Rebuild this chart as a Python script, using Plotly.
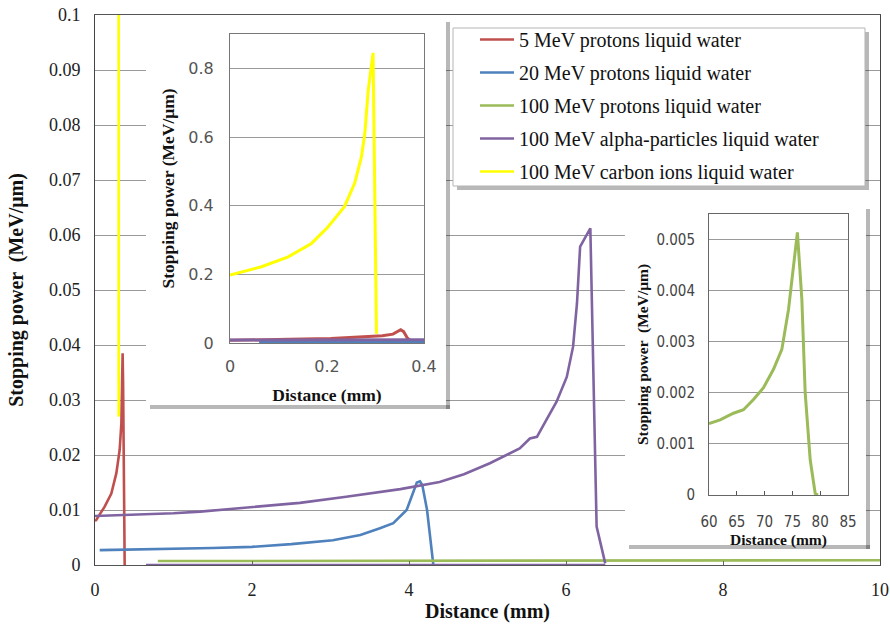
import plotly.graph_objects as go

# ---------------- data ----------------
# 5 MeV protons (distance mm, stopping power MeV/um)
p5_x = [0.0, 0.017, 0.06, 0.123, 0.208, 0.272, 0.314, 0.336, 0.345, 0.352, 0.358, 0.366, 0.378]
p5_y = [0.0080, 0.0082, 0.0092, 0.0106, 0.0130, 0.0167, 0.0209, 0.0258, 0.0330, 0.0385, 0.0330, 0.0140, 0.0]

# 20 MeV protons
p20_x = [0.06, 0.5, 1.0, 1.5, 2.0, 2.5, 3.03, 3.38, 3.63, 3.80, 3.97, 4.05, 4.10, 4.14, 4.17, 4.23, 4.29, 4.31]
p20_y = [0.0027, 0.0028, 0.0029, 0.0031, 0.0033, 0.0038, 0.0045, 0.00545, 0.0067, 0.0076, 0.0100, 0.0130,
         0.0150, 0.0152, 0.0145, 0.0100, 0.0015, 0.0]

# 100 MeV protons (two visible pieces: main range and inset range)
p100_x = [0.8, 3.0, 5.0, 7.0, 10.0, None,
          60.0, 62.0, 64.4, 66.2, 68.0, 69.8, 71.6, 73.1, 74.3, 75.2, 75.9,
          76.7, 77.3, 78.2, 79.1, 79.6]
p100_y = [0.00072, 0.00075, 0.00078, 0.00082, 0.00087, None,
          0.00140, 0.00147, 0.00160, 0.00167, 0.00187, 0.00210, 0.00246, 0.00285, 0.00363, 0.00449, 0.00514,
          0.00383, 0.00200, 0.00069, 0.00003, 0.0]

# 100 MeV alpha-particles
alpha_x = [0.0, 0.5, 1.0, 1.34, 2.0, 2.61, 3.2, 3.89, 4.39, 4.7, 5.03, 5.25, 5.41, 5.54, 5.63, 5.75, 5.88,
           6.01, 6.09, 6.14, 6.18, 6.31, 6.39, 6.5, None, 0.65, 6.5]
alpha_y = [0.0089, 0.0091, 0.0094, 0.0097, 0.0105, 0.0113, 0.0124, 0.0138, 0.0151, 0.0165, 0.0185,
           0.0200, 0.0212, 0.0230, 0.0233, 0.0264, 0.0297, 0.0342, 0.0397, 0.0476, 0.0579, 0.0612,
           0.0070, 0.0003, None, 0.0, 0.0]

# 100 MeV carbon ions
carbon_x = [0.0, 0.065, 0.120, 0.168, 0.202, 0.236, 0.257, 0.271, 0.278, 0.285, 0.295, 0.302]
carbon_y = [0.198, 0.222, 0.251, 0.290, 0.338, 0.397, 0.465, 0.542, 0.610, 0.736, 0.845, 0.027]

names = ["5 MeV protons liquid water", "20 MeV protons liquid water",
         "100 MeV protons liquid water", "100 MeV alpha-particles liquid water",
         "100 MeV carbon ions liquid water"]
colors = ["#C0504D", "#4F81BD", "#9BBB59", "#8064A2", "#FFFF00"]

main_xticks = [0, 2, 4, 6, 8, 10]
main_xtext = ["0", "2", "4", "6", "8", "10"]
main_yticks = [0, 0.01, 0.02, 0.03, 0.04, 0.05, 0.06, 0.07, 0.08, 0.09, 0.1]
main_ytext = ["0", "0.01", "0.02", "0.03", "0.04", "0.05", "0.06", "0.07", "0.08", "0.09", "0.1"]
in1_xticks = [0, 0.2, 0.4]
in1_xtext = ["0", "0.2", "0.4"]
in1_yticks = [0, 0.2, 0.4, 0.6, 0.8]
in1_ytext = ["0", "0.2", "0.4", "0.6", "0.8"]
in2_xticks = [60, 65, 70, 75, 80, 85]
in2_xtext = ["60", "65", "70", "75", "80", "85"]
in2_yticks = [0, 0.001, 0.002, 0.003, 0.004, 0.005]
in2_ytext = ["0", "0.001", "0.002", "0.003", "0.004", "0.005"]

# ---------------- geometry ----------------
W, H = 890, 636
ML, MR, MT, MB = 95, 10, 15, 71
X0, X1, Y0, Y1 = ML, W - MR, MT, H - MB  # plot area in page pixels


def fx(p):
    return (p - X0) / (X1 - X0)


def fy(p):
    return (Y1 - p) / (Y1 - Y0)


xs_data = [p5_x, p20_x, p100_x, alpha_x, carbon_x]
ys_data = [p5_y, p20_y, p100_y, alpha_y, carbon_y]

fig = go.Figure()

# main traces
for i in range(5):
    fig.add_trace(go.Scatter(x=xs_data[i], y=ys_data[i], mode="lines", name=names[i],
                             line=dict(color=colors[i], width=2.6), legendgroup=names[i],
                             xaxis="x", yaxis="y"))

# white box behind inset 1 (empty subplot that only paints a background)
fig.add_trace(go.Scatter(x=[], y=[], xaxis="x2", yaxis="y2", showlegend=False, hoverinfo="skip"))

# inset 1 traces
for i in [0, 1, 3, 4]:
    fig.add_trace(go.Scatter(x=xs_data[i], y=ys_data[i], mode="lines", name=names[i],
                             line=dict(color=colors[i], width=3), legendgroup=names[i],
                             showlegend=False, xaxis="x3", yaxis="y3"))

# white box behind inset 2
fig.add_trace(go.Scatter(x=[], y=[], xaxis="x4", yaxis="y4", showlegend=False, hoverinfo="skip"))

# inset 2 trace
fig.add_trace(go.Scatter(x=p100_x, y=p100_y, mode="lines", name=names[2],
                         line=dict(color=colors[2], width=3), legendgroup=names[2],
                         showlegend=False, xaxis="x5", yaxis="y5"))

serif = "Liberation Serif"
sans = "DejaVu Sans"
cond = "DejaVu Sans Condensed"
grid = "#9a9a9a"

hidden = dict(showgrid=False, showticklabels=False, zeroline=False, showline=False,
              ticks="", fixedrange=True, range=[0, 1], automargin=False)

fig.update_layout(
    template="none",
    width=W, height=H,
    margin=dict(l=ML, r=MR, t=MT, b=MB, autoexpand=False),
    paper_bgcolor="white", plot_bgcolor="white",
    showlegend=True,
    xaxis=dict(domain=[0, 1], anchor="y", range=[0, 10], tickvals=main_xticks, ticktext=main_xtext,
               showgrid=False, zeroline=False, showline=True, mirror=True, linecolor="#555",
               ticks="inside", ticklen=4, tickcolor="#666", ticklabelstandoff=8, automargin=False,
               ticklabeloverflow="allow",
               tickfont=dict(family=serif, size=18, color="#222"),
               title=dict(text="Distance (mm)", standoff=5,
                          font=dict(family=serif, size=20, color="#111", weight="bold"))),
    yaxis=dict(domain=[0, 1], anchor="x", range=[0, 0.1], tickvals=main_yticks, ticktext=main_ytext,
               showgrid=True, gridcolor=grid, zeroline=False, showline=True, mirror=True,
               linecolor="#444", ticks="", ticklabelstandoff=10, automargin=False,
               ticklabeloverflow="allow",
               tickfont=dict(family=serif, size=18, color="#222"),
               title=dict(text="Stopping power  (MeV/μm)", standoff=19,
                          font=dict(family=serif, size=20, color="#111", weight="bold"))),
    xaxis2=dict(domain=[fx(146), fx(446)], anchor="y2", **hidden),
    yaxis2=dict(domain=[fy(405), fy(18)], anchor="x2", **hidden),
    xaxis3=dict(domain=[fx(230), fx(424)], anchor="y3", range=[0, 0.4], tickvals=in1_xticks,
                ticktext=in1_xtext, showgrid=False, zeroline=False, showline=True, mirror=True,
                linecolor="#777", ticks="", ticklabelstandoff=9, automargin=False,
                tickfont=dict(family=sans, size=16, color="#555"),
                title=dict(text="Distance (mm)", standoff=13,
                           font=dict(family=serif, size=17.5, color="#111", weight="bold"))),
    yaxis3=dict(domain=[fy(343), fy(34)], anchor="x3", range=[0, 0.9], tickvals=in1_yticks,
                ticktext=in1_ytext, showgrid=True, gridcolor=grid, zeroline=False, showline=True,
                mirror=True, linecolor="#777", ticks="", ticklabelstandoff=12, automargin=False,
                tickfont=dict(family=sans, size=16, color="#555"),
                title=dict(text="Stopping power (MeV/μm)", standoff=9,
                           font=dict(family=serif, size=17.5, color="#111", weight="bold"))),
    xaxis4=dict(domain=[fx(625), fx(866)], anchor="y4", **hidden),
    yaxis4=dict(domain=[fy(545), fy(205)], anchor="x4", **hidden),
    xaxis5=dict(domain=[fx(709), fx(848)], anchor="y5", range=[60, 85], tickvals=in2_xticks,
                ticktext=in2_xtext, showgrid=False, zeroline=False, showline=True, mirror=True,
                linecolor="#666", ticks="inside", ticklen=4, tickcolor="#555", ticklabelstandoff=13,
                automargin=False,
                tickfont=dict(family=cond, size=15, color="#444"),
                title=dict(text="Distance (mm)", standoff=0,
                           font=dict(family=serif, size=15.5, color="#111", weight="bold"))),
    yaxis5=dict(domain=[fy(495), fy(214)], anchor="x5", range=[0, 0.0055], tickvals=in2_yticks,
                ticktext=in2_ytext, showgrid=True, gridcolor=grid, zeroline=False, showline=True,
                mirror=True, linecolor="#666", ticks="", ticklabelstandoff=10, automargin=False,
                tickfont=dict(family=cond, size=15, color="#444"),
                title=dict(text="Stopping power  (MeV/μm)", standoff=3,
                           font=dict(family=serif, size=15.5, color="#111", weight="bold"))),
    legend=dict(x=fx(475), y=fy(20), xanchor="left", yanchor="top",
                bgcolor="rgba(0,0,0,0)", borderwidth=0,
                font=dict(family=serif, size=20, color="#111"),
                tracegroupgap=4, itemwidth=34, traceorder="grouped"),
)

shadow = "rgba(0,0,0,0.28)"
shapes = []
for (x0, y0, x1, y1) in [(150, 405, 450, 409), (446, 22, 450, 409),
                         (629, 545, 870, 549), (866, 209, 870, 549)]:
    shapes.append(dict(type="rect", xref="paper", yref="paper", layer="above",
                       x0=fx(x0), x1=fx(x1), y0=fy(y1), y1=fy(y0),
                       fillcolor=shadow, line=dict(width=0)))
# legend frame: shadow + white box with thin border (legend entries sit on top)
shapes.append(dict(type="rect", xref="paper", yref="paper", layer="above",
                   x0=fx(457), x1=fx(869), y0=fy(190), y1=fy(32),
                   fillcolor=shadow, line=dict(width=0)))
shapes.append(dict(type="rect", xref="paper", yref="paper", layer="above",
                   x0=fx(453), x1=fx(865), y0=fy(186), y1=fy(28),
                   fillcolor="white", line=dict(color="#b5b5b5", width=1)))
fig.update_layout(shapes=shapes)

# remove the browser's default 8 px body margin so the 890x636 figure fills the window
fig.write_html("out.html",
               config={"displayModeBar": False},
               post_script="document.body.style.margin='0';document.body.style.overflow='hidden';")
